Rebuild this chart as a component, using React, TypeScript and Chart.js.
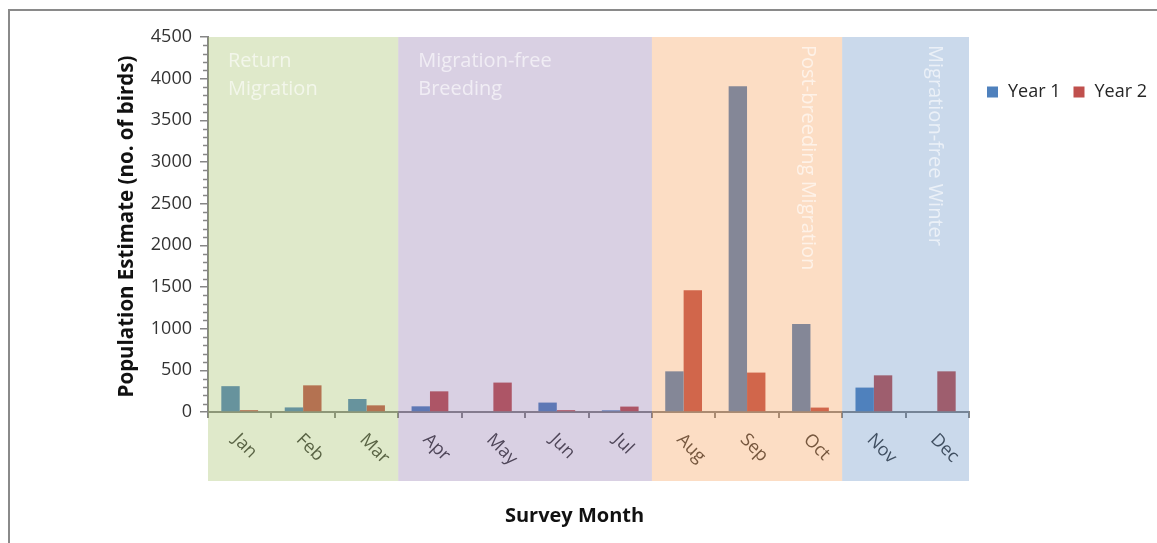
import React, { useEffect, useRef } from "react";
import { Chart, registerables } from "chart.js";

Chart.register(...registerables);

const months = ["Jan", "Feb", "Mar", "Apr", "May", "Jun", "Jul", "Aug", "Sep", "Oct", "Nov", "Dec"];
const year1 = [310, 55, 156, 68, 0, 113, 20, 488, 3910, 1056, 293, 0];
const year2 = [22, 320, 80, 248, 353, 22, 65, 1460, 473, 53, 440, 488];
const seriesNames = ["Year 1", "Year 2"];
const seriesColors = ["#4F81BD", "#C0504D"];
const yMin = 0;
const yMax = 4500;
const yStep = 500;
const yMinorStep = 100;
const xTitle = "Survey Month";
const yTitle = "Population Estimate (no. of birds)";

const regionLabels = [["Return", "Migration"], ["Migration-free", "Breeding"], ["Post-breeding Migration"], ["Migration-free Winter"]];
const regionStart = [0, 3, 7, 10];
const regionEnd = [3, 7, 10, 12];
const regionVertical = [false, false, true, true];
const regionColors = [
  "rgba(155,187,89,0.32)",
  "rgba(128,100,162,0.3)",
  "rgba(247,150,70,0.32)",
  "rgba(79,129,189,0.3)",
];

const FONT = "'Open Sans', 'Liberation Sans', sans-serif";

const overlayPlugin = {
  id: "overlayPlugin",
  afterDraw(chart: any) {
    const { ctx, chartArea, scales } = chart;
    const x = scales.x;
    const y = scales.y;
    const cw = x.getPixelForValue(1) - x.getPixelForValue(0);
    ctx.save();

    // minor ticks on y axis
    ctx.strokeStyle = "#868686";
    ctx.lineWidth = 1.5;
    for (let v = yMin; v <= yMax; v += yMinorStep) {
      if (v % yStep === 0) continue;
      const py = Math.round(y.getPixelForValue(v)) + 0.5;
      ctx.beginPath();
      ctx.moveTo(chartArea.left - 5, py);
      ctx.lineTo(chartArea.left, py);
      ctx.stroke();
    }

    // x labels (rotated 45deg clockwise)
    ctx.fillStyle = "#3a3a3a";
    ctx.font = `18px ${FONT}`;
    ctx.textAlign = "left";
    ctx.textBaseline = "middle";
    months.forEach((m, i) => {
      const cx = x.getPixelForValue(i);
      ctx.save();
      ctx.translate(cx - 4, chartArea.bottom + 25);
      ctx.rotate(Math.PI / 4);
      ctx.fillText(m, 0, 0);
      ctx.restore();
    });

    // translucent seasonal regions
    const regTop = chartArea.top;
    const regBottom = chartArea.bottom + 69;
    regionLabels.forEach((lab, r) => {
      const left = x.getPixelForValue(regionStart[r]) - cw / 2;
      const right = x.getPixelForValue(regionEnd[r] - 1) + cw / 2;
      ctx.fillStyle = regionColors[r];
      ctx.fillRect(left, regTop, right - left, regBottom - regTop);
      ctx.fillStyle = "rgba(255,255,255,0.62)";
      ctx.font = `20px ${FONT}`;
      if (!regionVertical[r]) {
        ctx.textAlign = "left";
        ctx.textBaseline = "alphabetic";
        lab.forEach((line, li) => {
          ctx.fillText(line, left + 20, regTop + 30 + li * 28);
        });
      } else {
        ctx.save();
        ctx.translate(right - 34, regTop + 8);
        ctx.rotate(Math.PI / 2);
        ctx.textAlign = "left";
        ctx.textBaseline = "middle";
        ctx.fillText(lab[0], 0, 0);
        ctx.restore();
      }
    });

    // legend
    ctx.font = `18px ${FONT}`;
    ctx.textAlign = "left";
    ctx.textBaseline = "middle";
    let lx = 987;
    const ly = 92;
    seriesNames.forEach((name, i) => {
      ctx.fillStyle = seriesColors[i];
      ctx.fillRect(lx, ly - 5.5, 11, 11);
      ctx.fillStyle = "#262626";
      ctx.fillText(name, lx + 21, ly);
      lx += 21 + ctx.measureText(name).width + 13;
    });

    // axis titles
    ctx.fillStyle = "#111";
    ctx.textAlign = "center";
    ctx.textBaseline = "middle";
    ctx.font = `bold 20px ${FONT}`;
    ctx.fillText(xTitle, (chartArea.left + chartArea.right) / 2 - 14, 516);
    ctx.save();
    ctx.font = `bold 20.5px ${FONT}`;
    ctx.translate(127, (chartArea.top + chartArea.bottom) / 2 + 2);
    ctx.rotate(-Math.PI / 2);
    ctx.fillText(yTitle, 0, 0);
    ctx.restore();

    // outer frame (top and left edges visible)
    ctx.fillStyle = "#8a8a8a";
    ctx.fillRect(8, 9, 2, chart.height - 9);
    ctx.fillRect(8, 9, chart.width - 8, 2);

    ctx.restore();
  },
};

export default function App() {
  const ref = useRef<HTMLCanvasElement | null>(null);
  useEffect(() => {
    if (!ref.current) return;
    const chart = new Chart(ref.current, {
      type: "bar",
      data: {
        labels: months,
        datasets: [
          { label: seriesNames[0], data: year1, backgroundColor: seriesColors[0], borderWidth: 0, categoryPercentage: 0.58, barPercentage: 1 },
          { label: seriesNames[1], data: year2, backgroundColor: seriesColors[1], borderWidth: 0, categoryPercentage: 0.58, barPercentage: 1 },
        ],
      },
      options: {
        responsive: false,
        animation: false,
        layout: { padding: { left: 0, right: 188, top: 37, bottom: 0 } },
        plugins: {
          legend: { display: false },
          tooltip: { enabled: false },
          title: { display: false },
        },
        scales: {
          x: {
            grid: { display: true, drawOnChartArea: false, drawTicks: true, tickLength: 6, color: "#868686", lineWidth: 2, offset: true },
            border: { display: true, color: "#868686", width: 2 },
            ticks: { display: false },
            afterFit: (s: any) => { s.height = 131; },
          },
          y: {
            min: yMin,
            max: yMax,
            ticks: {
              stepSize: yStep,
              color: "#333",
              font: { family: FONT, size: 18 },
              padding: 8,
              callback: (v: any) => String(v),
            },
            grid: { display: true, drawOnChartArea: false, drawTicks: true, tickLength: 8, color: "#868686", lineWidth: 1.5 },
            border: { display: true, color: "#868686", width: 2 },
            afterFit: (s: any) => { s.width = 208; },
          },
        },
      },
      plugins: [overlayPlugin],
    });
    return () => chart.destroy();
  }, []);
  return (
    <div style={{ position: "absolute", left: 0, top: 0, width: 1157, height: 543, background: "#fff" }}>
      <canvas ref={ref} width={1157} height={543} style={{ display: "block" }} />
    </div>
  );
}
